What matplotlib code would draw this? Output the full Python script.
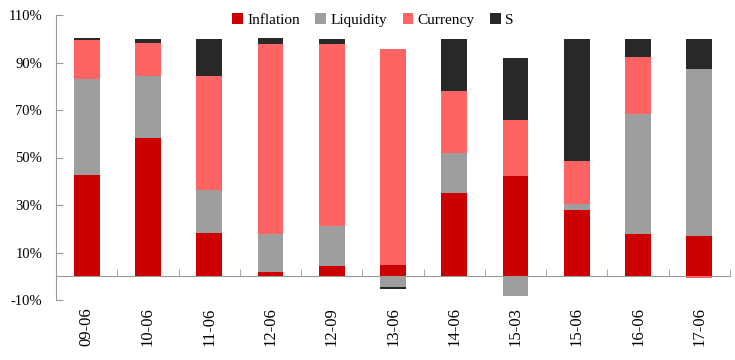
import matplotlib.pyplot as plt
from matplotlib.patches import Patch
import numpy as np

plt.rcParams['font.family'] = ['Liberation Serif', 'DejaVu Serif']

# ===============================
# Data (percent)
# ===============================
dates = ["09-06", "10-06", "11-06", "12-06", "12-09", "13-06",
         "14-06", "15-03", "15-06", "16-06", "17-06"]
inflation = [42.6, 58.2, 18.1, 1.8, 4.3, 4.8, 35.1, 42.2, 27.8, 17.7, 17.1]
liquidity = [40.4, 26.0, 18.4, 15.8, 16.9, -4.5, 16.8, -8.3, 2.7, 50.6, 70.2]
currency = [16.6, 14.0, 47.7, 80.1, 76.8, 90.8, 26.1, 23.6, 17.9, 24.2, -0.8]
s_factor = [0.9, 1.8, 15.8, 2.5, 2.0, -0.8, 22.0, 26.2, 51.6, 7.5, 12.7]

series = [("Inflation", inflation, "#CC0000"),
          ("Liquidity", liquidity, "#9E9E9E"),
          ("Currency", currency, "#FF6464"),
          ("S", s_factor, "#282828")]

# ===============================
# Plot
# ===============================
fig = plt.figure(figsize=(7.35, 3.6), dpi=100)
ax = fig.add_axes([56 / 735, 1 - 300 / 360, 674 / 735, 285 / 360])

x = np.arange(len(dates))
pos_base = np.zeros(len(dates))
neg_base = np.zeros(len(dates))
for name, vals, color in series:
    v = np.array(vals, dtype=float)
    base = np.where(v >= 0, pos_base, neg_base)
    ax.bar(x, v, 0.42, bottom=base, color=color, zorder=3)
    pos_base += np.where(v >= 0, v, 0)
    neg_base += np.where(v < 0, v, 0)

ax.set_xlim(-0.5, len(dates) - 0.5)
ax.set_ylim(-10, 110)
ax.set_yticks(np.arange(-10, 111, 20))
ax.set_yticklabels([f"{t}%" for t in range(-10, 111, 20)])

for side in ["top", "right"]:
    ax.spines[side].set_visible(False)
ax.spines["left"].set_color("#999999")
ax.spines["bottom"].set_color("#999999")
ax.spines["bottom"].set_position(("data", 0))
ax.spines["bottom"].set_zorder(2)

ax.tick_params(axis="y", direction="in", length=5, color="#999999",
               labelsize=10.5, pad=10)
ax.set_xticks([])
ax.set_xticks(np.arange(0.5, len(dates), 1), minor=True)
ax.tick_params(axis="x", which="minor", direction="in", length=5,
               color="#999999", labelbottom=False)

trans = ax.get_xaxis_transform()
for i, d in enumerate(dates):
    ax.text(i, -0.025, d, rotation=90, ha="center", va="top",
            fontsize=12, transform=trans)

handles = [Patch(facecolor=c, label=n) for n, _, c in series]
fig.legend(handles=handles, loc="center", bbox_to_anchor=(373 / 735, 1 - 20 / 360),
           ncol=4, frameon=False, fontsize=11, handlelength=0.7,
           handleheight=0.7, handletextpad=0.3, columnspacing=1.0)

fig.savefig("out.png", dpi=100)
